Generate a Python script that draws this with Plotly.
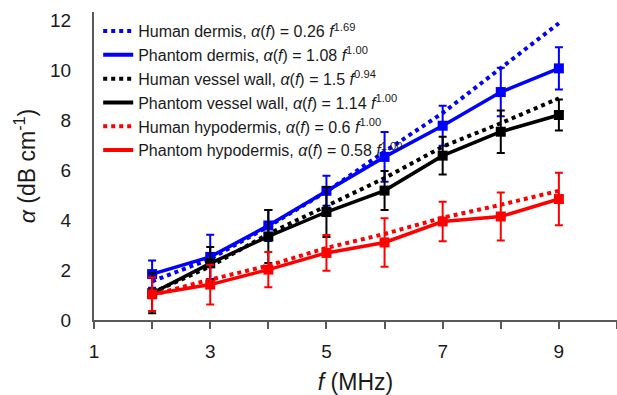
import plotly.graph_objects as go

freq = [2, 3, 4, 5, 6, 7, 8, 9]

human_dermis = [1.55, 2.45, 3.75, 5.15, 6.75, 8.3, 10.1, 11.9]
phantom_dermis = [1.84, 2.53, 3.79, 5.18, 6.54, 7.79, 9.14, 10.09]
phantom_dermis_err = [0.55, 0.89, 0.62, 0.6, 1.0, 0.8, 0.97, 0.85]

human_vessel = [1.09, 2.15, 3.45, 4.55, 5.69, 6.95, 7.89, 8.89]
phantom_vessel = [1.07, 2.27, 3.35, 4.33, 5.19, 6.59, 7.55, 8.22]
phantom_vessel_err = [0.8, 0.66, 1.06, 1.0, 0.78, 0.76, 0.85, 0.62]

human_hypo = [1.0, 1.62, 2.18, 2.89, 3.45, 4.1, 4.62, 5.18]
phantom_hypo = [1.03, 1.42, 2.02, 2.69, 3.11, 3.95, 4.15, 4.85]
phantom_hypo_err = [0.67, 0.8, 0.71, 0.72, 0.97, 0.79, 0.96, 1.05]

legend_names = [
    "Human dermis, <i>α</i>(<i>f</i>) = 0.26 <i>f</i><sup>1.69</sup>",
    "Phantom dermis, <i>α</i>(<i>f</i>) = 1.08 <i>f</i><sup>1.00</sup>",
    "Human vessel wall, <i>α</i>(<i>f</i>) = 1.5 <i>f</i><sup>0.94</sup>",
    "Phantom vessel wall, <i>α</i>(<i>f</i>) = 1.14 <i>f</i><sup>1.00</sup>",
    "Human hypodermis, <i>α</i>(<i>f</i>) = 0.6 <i>f</i><sup>1.00</sup>",
    "Phantom hypodermis, <i>α</i>(<i>f</i>) = 0.58 <i>f</i><sup>1.00</sup>",
]

BLUE, BLACK, RED = "#0000FF", "#000000", "#FF0000"
FONT = "Arial, Liberation Sans, sans-serif"

fig = go.Figure()

series = [
    (human_dermis, None, BLUE, "dot"),
    (phantom_dermis, phantom_dermis_err, BLUE, "solid"),
    (human_vessel, None, BLACK, "dot"),
    (phantom_vessel, phantom_vessel_err, BLACK, "solid"),
    (human_hypo, None, RED, "dot"),
    (phantom_hypo, phantom_hypo_err, RED, "solid"),
]

for (vals, err, col, dash) in series:
    if err is None:
        fig.add_trace(go.Scatter(x=freq, y=vals, mode="lines",
                                 line=dict(color=col, width=4, dash=dash),
                                 showlegend=False))
    else:
        fig.add_trace(go.Scatter(x=freq, y=vals, mode="lines+markers",
                                 line=dict(color=col, width=3.5),
                                 marker=dict(symbol="square", size=10, color=col),
                                 error_y=dict(type="data", array=err, visible=True,
                                              color=col, thickness=2, width=4),
                                 showlegend=False))

# legend entries (lines only)
for name, (vals, err, col, dash) in zip(legend_names, series):
    fig.add_trace(go.Scatter(x=[None], y=[None], mode="lines", name=name,
                             line=dict(color=col, width=4, dash=dash)))

fig.update_layout(
    width=617, height=395,
    margin=dict(l=94, r=0, t=12, b=75),
    paper_bgcolor="white", plot_bgcolor="white",
    font=dict(family=FONT, color="#1a1a1a"),
    legend=dict(x=0.008, y=0.993, xanchor="left", yanchor="top",
                bgcolor="rgba(0,0,0,0)", font=dict(size=16, family=FONT, color="#1a1a1a"),
                itemwidth=30, tracegroupgap=0),
    xaxis=dict(range=[1, 10], tickmode="array",
               tickvals=[1, 2, 3, 4, 5, 6, 7, 8, 9, 10],
               ticktext=["1", "", "3", "", "5", "", "7", "", "9", ""],
               ticks="outside", ticklen=7, tickwidth=2, tickcolor="#595959",
               ticklabelstandoff=6,
               showline=True, linecolor="#595959", linewidth=2,
               showgrid=False, zeroline=False,
               tickfont=dict(size=19),
               title=dict(text="<i>f</i> (MHz)", font=dict(size=23), standoff=15)),
    yaxis=dict(range=[0, 12.35], tickvals=[0, 2, 4, 6, 8, 10, 12],
               ticks="outside", ticklen=17, tickcolor="rgba(0,0,0,0)",
               showline=True, linecolor="#595959", linewidth=2,
               showgrid=False, zeroline=False,
               tickfont=dict(size=19),
               title=dict(text="<i>α</i> (dB cm<sup>-1</sup>)", font=dict(size=23), standoff=8)),
)

fig.write_html("out.html")
